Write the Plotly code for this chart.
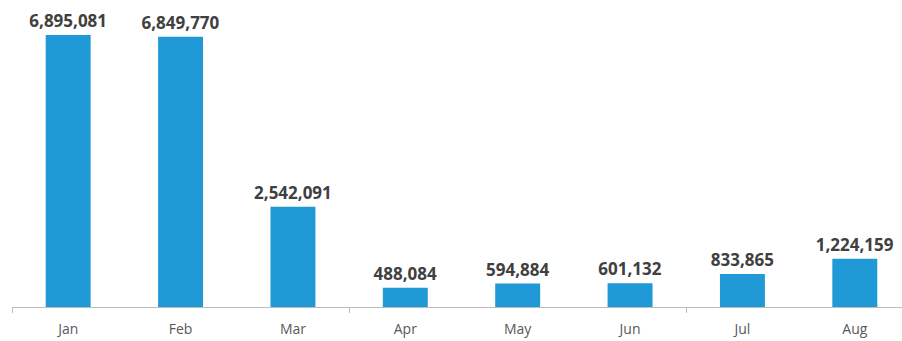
import plotly.graph_objects as go

months = ["Jan", "Feb", "Mar", "Apr", "May", "Jun", "Jul", "Aug"]
values = [6895081, 6849770, 2542091, 488084, 594884, 601132, 833865, 1224159]
labels = [f"{v:,}" for v in values]

fig = go.Figure()
fig.add_trace(go.Bar(
    x=months, y=values, text=labels, textposition="outside",
    constraintext="none", cliponaxis=False, width=0.4,
    marker=dict(color="#1f9ad7", line=dict(width=0)),
    textfont=dict(family="Open Sans", size=17, color="#404040", weight="bold"),
))

# invisible companion axis carrying the group separator ticks
fig.add_trace(go.Scatter(x=[0], y=[0], xaxis="x2", mode="markers",
                         marker=dict(opacity=0), hoverinfo="skip", showlegend=False))

fig.update_layout(
    width=902, height=341,
    margin=dict(l=12, r=0, t=0, b=34),
    plot_bgcolor="white", paper_bgcolor="white",
    showlegend=False, bargap=0.6,
    xaxis=dict(type="category", range=[-0.5, 7.42], showline=True,
               linecolor="#bdbdbd", linewidth=1, ticks="",
               tickfont=dict(family="Open Sans", size=14, color="#595959"),
               ticklabelstandoff=9, showgrid=False),
    xaxis2=dict(overlaying="x", range=[-0.5, 7.42], showline=False,
                showgrid=False, zeroline=False, ticks="outside", ticklen=5,
                tickcolor="#bdbdbd", tickvals=[-0.5, 2.5, 5.5],
                showticklabels=False, anchor="y", side="bottom"),
    yaxis=dict(range=[0, 7782000], visible=False, showgrid=False),
)

fig.write_html("out.html")
